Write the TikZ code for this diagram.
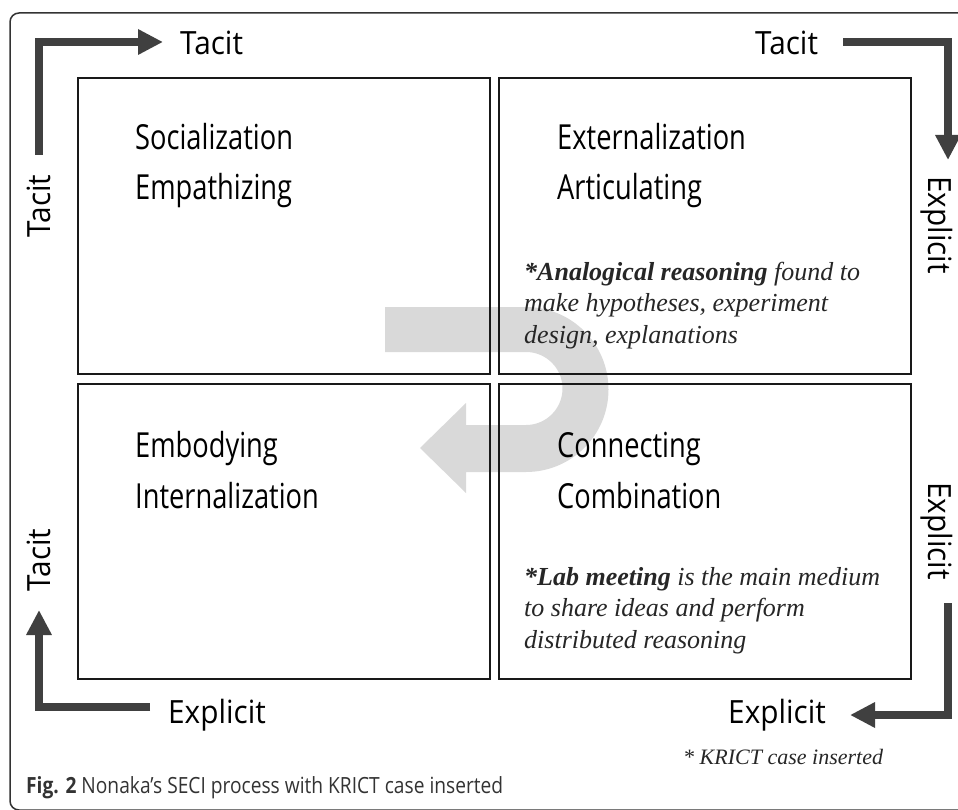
\documentclass[tikz,border=0pt]{standalone}
\usepackage{fontspec}
\setmainfont{Liberation Serif}
\newfontfamily\secifont[FakeStretch=0.79]{Open Sans}
\newfontfamily\sidefont[FakeStretch=0.93]{Open Sans}
\newfontfamily\capfont[FakeStretch=0.86]{Open Sans}
\usetikzlibrary{arrows.meta}
\definecolor{arrowgray}{HTML}{404040}
\definecolor{flowgray}{HTML}{D9D9D9}
\definecolor{framegray}{HTML}{333333}

\begin{document}
\begin{tikzpicture}[x=1pt,y=-1pt,
		quadbox/.style={draw=black!90,line width=2pt,minimum width=412pt,minimum height=296pt,inner sep=0pt},
		quadtext/.style={font=\secifont\fontsize{34.5}{40}\selectfont,anchor=base west,inner sep=0pt},
		sidelabel/.style={font=\sidefont\fontsize{32}{38}\selectfont,anchor=base west,inner sep=0pt},
		notetext/.style={font=\fontsize{26}{31.5}\selectfont\itshape,text=black!85,align=left,anchor=base west,inner sep=0pt},
		turnarrow/.style={draw=arrowgray,line width=8pt,-{Triangle[width=24pt,length=25pt]}}
		]
		\useasboundingbox (0,0) rectangle (958,810);
		\draw[framegray,line width=1.5pt,rounded corners=9pt] (10,13) rectangle (975,810);
		
		% the big grey turn behind the four boxes
		\fill[flowgray] (385,307) -- (526,307) arc[start angle=90,end angle=-90,radius=82.5pt]
		-- (466,472) -- (466,493) -- (420,448) -- (466,403) -- (466,425) -- (526,425)
		arc[start angle=-90,end angle=90,radius=36.5pt] -- (385,352) -- cycle;
		
		\node[quadbox](Q1) at (284,226){};
		\node[quadbox](Q2) at (705,226){};
		\node[quadbox, minimum height=295pt](Q3) at (284,531.5){};
		\node[quadbox, minimum height=295pt](Q4) at (705,531.5){};
		
		\node[quadtext](soc) at (135,150){Socialization};
		\node[quadtext](emp) at (135,200){Empathizing};
		\node[quadtext](ext) at (557,150){Externalization};
		\node[quadtext](art) at (557,200){Articulating};
		\node[quadtext](emb) at (135,457){Embodying};
		\node[quadtext](int) at (135,508){Internalization};
		\node[quadtext](con) at (557,457){Connecting};
		\node[quadtext](com) at (557,508){Combination};
		
		% base of a multi-line node is its last line
		\node[notetext](analog) at (524,343){\textbf{*Analogical reasoning} found to\\make hypotheses, experiment\\design, explanations};
		\node[notetext](lab) at (524,648){\textbf{*Lab meeting} is the main medium\\to share ideas and perform\\distributed reasoning};
		
		% labels round the square
		\node[sidelabel](tacitTL) at (180,55){Tacit};
		\node[sidelabel](tacitTR) at (755,55){Tacit};
		\node[sidelabel](explBL) at (168,723){Explicit};
		\node[sidelabel](explBR) at (728,723){Explicit};
		\node[sidelabel, rotate=90, anchor=base](tacitL1) at (50,206){Tacit};
		\node[sidelabel, rotate=90, anchor=base](tacitL2) at (50,560){Tacit};
		\node[sidelabel, rotate=-90, anchor=base](explR1) at (928,225){Explicit};
		\node[sidelabel, rotate=-90, anchor=base](explR2) at (928,531){Explicit};
		
		\coordinate (a1s) at (39,155);
		\coordinate (a1e) at (163,42);
		\coordinate (a2s) at (843,42);
		\coordinate (a2e) at (948,160);
		\coordinate (a3s) at (948,603);
		\coordinate (a3e) at (850,715);
		\coordinate (a4s) at (150,707);
		\coordinate (a4e) at (39,610);
		\draw[turnarrow] (a1s) |- (a1e);
		\draw[turnarrow] (a2s) -| (a2e);
		\draw[turnarrow] (a3s) |- (a3e);
		\draw[turnarrow] (a4s) -| (a4e);
		
		\node[anchor=base west, inner sep=0pt, font=\fontsize{22}{26}\selectfont\itshape, text=black!85](krict) at (683,764){* KRICT case inserted};
		\node[anchor=base west, inner sep=0pt, font=\capfont\fontsize{22.3}{24}\selectfont, text=framegray](caption) at (26,793){\textbf{Fig. 2} Nonaka’s SECI process with KRICT case inserted};
	\end{tikzpicture}
\end{document}
